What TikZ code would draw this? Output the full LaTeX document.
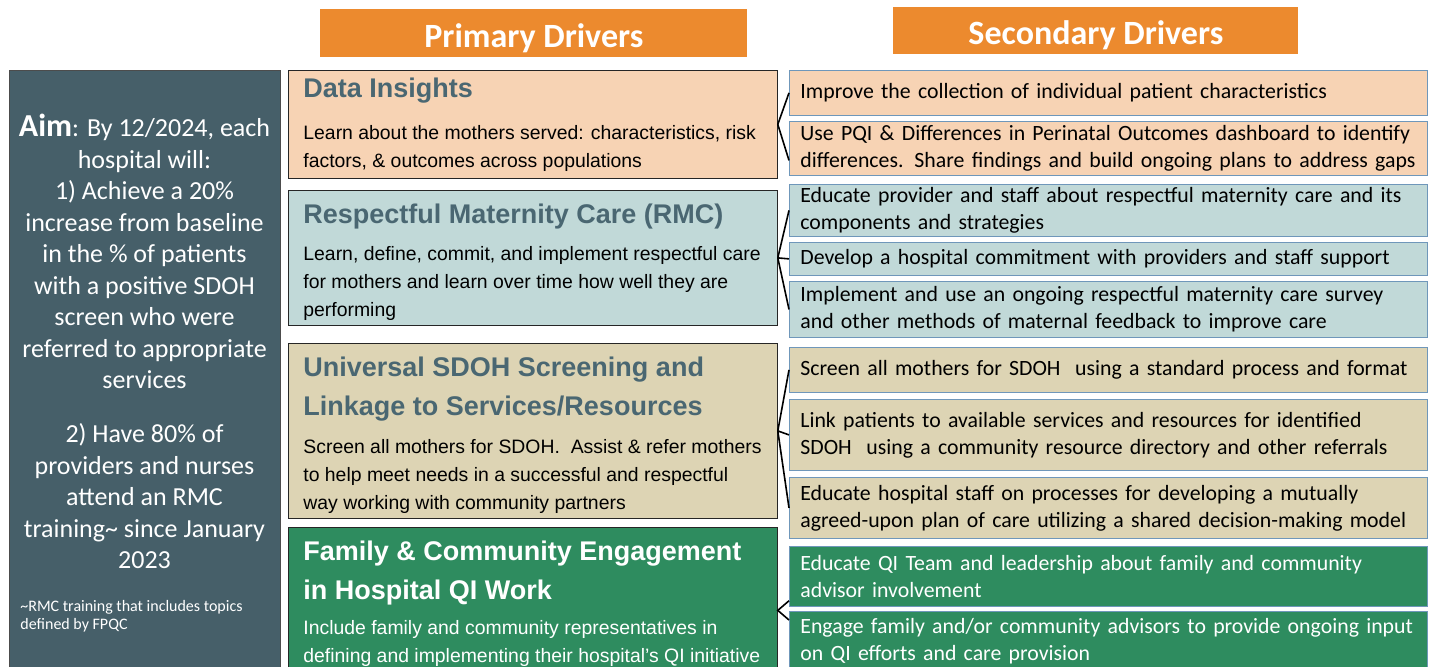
\documentclass[tikz,border=0pt]{standalone}
\usepackage{fontspec}
\setmainfont{Liberation Sans}
\newfontfamily\calib{Carlito}
\definecolor{drvorange}{HTML}{EC8A2E}
\definecolor{aimslate}{HTML}{465F69}
\definecolor{peach}{HTML}{F7D3B4}
\definecolor{mist}{HTML}{C1D9D8}
\definecolor{sand}{HTML}{DDD4B4}
\definecolor{leaf}{HTML}{2E8C5F}
\definecolor{slatetext}{HTML}{4A6772}
\definecolor{edgeblue}{HTML}{6F97BA}

\begin{document}
\begin{tikzpicture}[x=0.5pt,y=-0.5pt,
	hdr/.style={fill=drvorange,text=white,font=\calib\bfseries\fontsize{17}{20}\selectfont,anchor=north west,inner sep=0,text height=14pt,text depth=0pt},
	pbox/.style={draw=black!85,anchor=north west,inner sep=0,minimum width=244.5pt},
	ptitle/.style={anchor=base west,inner sep=0,align=left,text=slatetext,font=\bfseries\fontsize{13.5}{19.5}\selectfont},
	pbody/.style={anchor=base west,inner sep=0,align=left,font=\fontsize{9.7}{14}\selectfont},
	sbox/.style={draw=edgeblue,anchor=north west,inner xsep=5.5pt,inner ysep=0,minimum width=319pt,text width=308pt,align=left,font=\calib\fontsize{10.9}{13.5}\selectfont},
	aimtext/.style={anchor=base,inner sep=0,align=center,text=white,font=\calib\fontsize{13}{15.75}\selectfont},
	link/.style={line width=0.8pt}]
	\useasboundingbox (0,0) rectangle (1432,667);

	% headers
	\node[hdr,minimum width=213.5pt,minimum height=24pt] (prihdr) at (320,9) {Primary Drivers};
	\node[hdr,minimum width=202.5pt,minimum height=23.5pt] (sechdr) at (893,7) {Secondary Drivers};

	% aim (base = last line)
	\node[draw=black!70,fill=aimslate,anchor=north west,minimum width=135.5pt,minimum height=310pt] (aim) at (9,70) {};
	\node[aimtext] (aimone) at (144.5,389) {{\fontsize{16}{15.75}\selectfont\bfseries Aim}: By 12/2024, each\\hospital will:\\1) Achieve a 20\%\\increase from baseline\\in the \% of patients\\with a positive SDOH\\screen who were\\referred to appropriate\\services};
	\node[aimtext] (aimtwo) at (144.5,569) {2) Have 80\% of\\providers and nurses\\attend an RMC\\training\textasciitilde{} since January\\2023};
	\node[anchor=base west,inner sep=0,align=left,text=white,font=\calib\fontsize{8}{9}\selectfont] (aimnote) at (20,630) {\textasciitilde RMC training that includes topics\\defined by FPQC};

	% primary drivers
	\node[pbox,fill=peach,minimum height=54pt] (di) at (288,70) {};
	\node[ptitle] (dititle) at (303,98) {Data Insights};
	\node[pbody] (dibody) at (303,168) {Learn about the mothers served: characteristics, risk\\factors, \& outcomes across populations};

	\node[pbox,fill=mist,minimum height=67.5pt] (rmc) at (288,190) {};
	\node[ptitle] (rmctitle) at (303,224) {Respectful Maternity Care (RMC)};
	\node[pbody] (rmcbody) at (303,317) {Learn, define, commit, and implement respectful care\\for mothers and learn over time how well they are\\performing};

	\node[pbox,fill=sand,minimum height=87.5pt] (sdoh) at (288,343) {};
	\node[ptitle] (sdohtitle) at (303,416) {Universal SDOH Screening and\\Linkage to Services/Resources};
	\node[pbody] (sdohbody) at (303,510) {Screen all mothers for SDOH.\ \ Assist \& refer mothers\\to help meet needs in a successful and respectful\\way working with community partners};

	\node[pbox,fill=leaf,minimum height=83pt] (fam) at (288,527) {};
	\node[ptitle,text=white] (famtitle) at (303,600) {Family \& Community Engagement\\in Hospital QI Work};
	\node[pbody,text=white] (fambody) at (303,663) {Include family and community representatives in\\defining and implementing their hospital's QI initiative};

	% secondary drivers
	\node[sbox,fill=peach,minimum height=22.5pt] (s1) at (789,70) {Improve the collection of individual patient characteristics};
	\node[sbox,fill=peach,minimum height=27pt] (s2) at (789,121) {Use PQI \& Differences in Perinatal Outcomes dashboard to identify\\differences. Share findings and build ongoing plans to address gaps};
	\node[sbox,fill=mist,minimum height=26pt] (s3) at (789,184) {Educate provider and staff about respectful maternity care and its\\components and strategies};
	\node[sbox,fill=mist,minimum height=16.5pt] (s4) at (789,242) {Develop a hospital commitment with providers and staff support};
	\node[sbox,fill=mist,minimum height=28pt] (s5) at (789,281) {Implement and use an ongoing respectful maternity care survey\\and other methods of maternal feedback to improve care};
	\node[sbox,fill=sand,minimum height=22.5pt] (s6) at (789,347) {Screen all mothers for SDOH\ \ using a standard process and format};
	\node[sbox,fill=sand,minimum height=35.5pt] (s7) at (789,399) {Link patients to available services and resources for identified\\SDOH\ \ using a community resource directory and other referrals};
	\node[sbox,fill=sand,minimum height=30.5pt] (s8) at (789,477) {Educate hospital staff on processes for developing a mutually\\agreed-upon plan of care utilizing a shared decision-making model};
	\node[sbox,fill=leaf,text=white,minimum height=30pt] (s9) at (789,546) {Educate QI Team and leadership about family and community\\advisor involvement};
	\node[sbox,fill=leaf,text=white,minimum height=30pt] (s10) at (789,611) {Engage family and/or community advisors to provide ongoing input\\on QI efforts and care provision};

	% links
	\draw[link] (s1.west) -- (di.east) -- ([yshift=-6pt]s2.west);
	\draw[link] (rmc.east) -- (s3.west);
	\draw[link] (rmc.east) -- (s4.west);
	\draw[link] (rmc.east) -- (s5.west);
	\draw[link] (s6.west) -- (sdoh.east) -- (s8.west);
	\draw[link] (sdoh.east) -- (s7.west);
	\draw[link] ([yshift=3pt]s9.south west) -- (fam.east) -- ([yshift=-4.5pt]s10.north west);
\end{tikzpicture}
\end{document}
